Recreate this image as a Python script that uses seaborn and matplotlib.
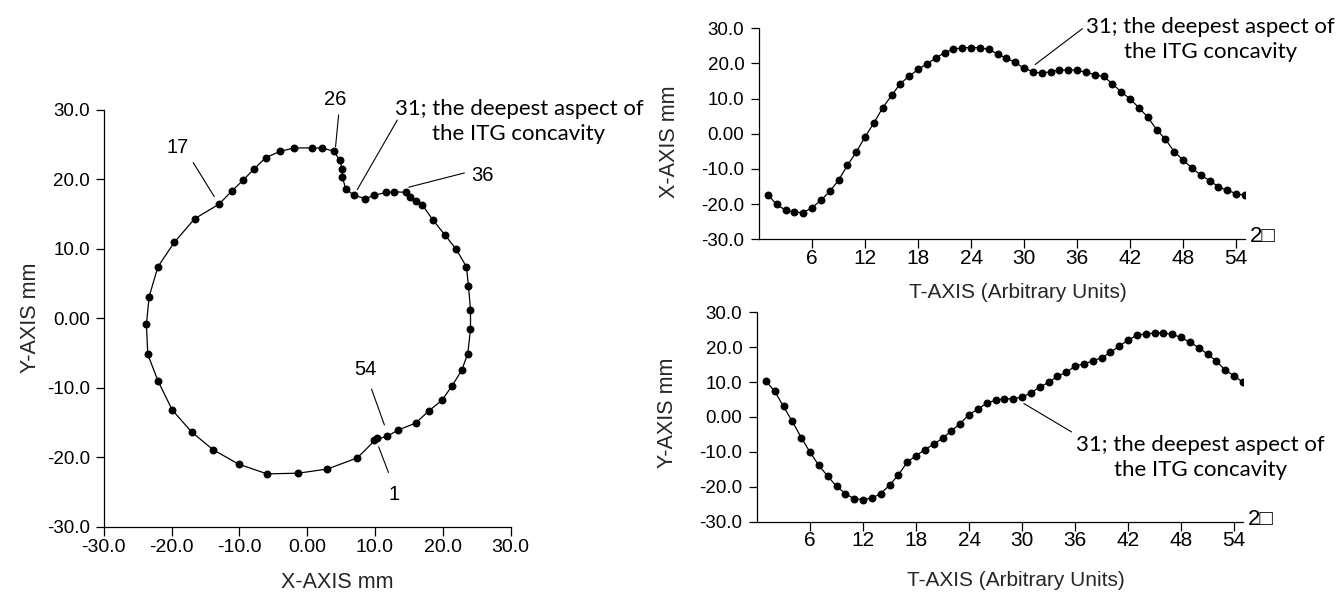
import matplotlib
matplotlib.use("Agg")
import matplotlib.pyplot as plt
import seaborn as sns
import pandas as pd

# ---------------- data ----------------
t_index = list(range(1, 56))
# horizontal coordinate of each contour point (left panel X, lower-right series)
x_coord = [10.3, 7.4, 3.0, -1.3, -5.9, -10.1, -13.9, -17.0, -19.9, -22.0,
           -23.5, -23.7, -23.3, -22.0, -19.6, -16.6, -13.0, -11.1, -9.4, -7.8,
           -6.1, -4.0, -1.9, 0.7, 2.2, 4.0, 4.8, 5.2, 5.2, 5.7,
           6.9, 8.6, 9.9, 11.7, 12.8, 14.6, 15.2, 16.1, 17.0, 18.5,
           20.4, 22.0, 23.5, 23.8, 24.1, 24.1, 23.7, 22.8, 21.4, 19.9,
           18.0, 16.0, 13.4, 11.8, 9.9]
# vertical coordinate of each contour point (left panel Y, upper-right series)
y_coord = [-17.3, -20.1, -21.7, -22.3, -22.4, -21.0, -18.9, -16.4, -13.2, -9.0,
           -5.2, -0.9, 3.1, 7.4, 10.9, 14.3, 16.4, 18.3, 19.9, 21.5,
           23.1, 24.0, 24.5, 24.5, 24.5, 24.0, 22.7, 21.5, 20.3, 18.6,
           17.7, 17.2, 17.7, 18.1, 18.2, 18.1, 17.5, 16.8, 16.3, 14.2,
           11.9, 9.9, 7.4, 4.7, 1.2, -1.6, -5.1, -7.5, -9.7, -11.8,
           -13.3, -15.1, -16.1, -17.0, -17.5]

mm_ticks = [-30, -20, -10, 0, 10, 20, 30]
mm_tick_labels = ["-30.0", "-20.0", "-10.0", "0.00", "10.0", "20.0", "30.0"]
t_ticks = [6, 12, 18, 24, 30, 36, 42, 48, 54]
t_tick_labels = ["6", "12", "18", "24", "30", "36", "42", "48", "54"]
note_text = "31; the deepest aspect of\nthe ITG concavity"
point_labels = ["17", "26", "36", "54", "1"]
corner_text = "2\u25a1"

df = pd.DataFrame({"T": t_index, "X": x_coord, "Y": y_coord})

# ---------------- style ----------------
sns.set_theme(style="ticks")
plt.rcParams["font.family"] = ["Liberation Sans", "DejaVu Sans"]
plt.rcParams["axes.linewidth"] = 0.9
plt.rcParams["xtick.major.width"] = 0.9
plt.rcParams["ytick.major.width"] = 0.9
plt.rcParams["xtick.major.size"] = 6.5
plt.rcParams["ytick.major.size"] = 6
plt.rcParams["xtick.direction"] = "out"
plt.rcParams["ytick.direction"] = "out"
plt.rcParams["axes.edgecolor"] = "black"
plt.rcParams["xtick.color"] = "black"
plt.rcParams["ytick.color"] = "black"
plt.rcParams["text.color"] = "black"

W, H = 1343, 596
fig = plt.figure(figsize=(W / 100, H / 100), dpi=100)
fig.patch.set_facecolor("white")

def rect(x0, y_top, x1, y_bot):
    return [x0 / W, 1 - y_bot / H, (x1 - x0) / W, (y_bot - y_top) / H]

ax_l = fig.add_axes(rect(103.7, 109.7, 510.5, 526.7))
ax_tr = fig.add_axes(rect(759, 28.3, 1245, 239.3))
ax_br = fig.add_axes(rect(757, 312.4, 1243, 521.5))

line_kw = dict(color="black", linewidth=0.9, marker="o", markersize=5.7,
               markeredgewidth=0, markerfacecolor="black",
               estimator=None, errorbar=None)

# ---------------- left: contour ----------------
sns.lineplot(data=df, x="X", y="Y", sort=False, ax=ax_l, **line_kw)
ax_l.set_xlim(-30, 30)
ax_l.set_ylim(-30, 30)
ax_l.set_xticks(mm_ticks, mm_tick_labels)
ax_l.set_yticks(mm_ticks, mm_tick_labels)
ax_l.tick_params(axis="x", labelsize=14, pad=2.5)
ax_l.tick_params(axis="y", labelsize=13.5, pad=4)
ax_l.set_xlabel("X-AXIS mm", fontsize=15.5, va="center")
ax_l.set_ylabel("Y-AXIS mm", fontsize=15.5, va="center")
ax_l.xaxis.set_label_coords(0.573, -0.135)
ax_l.yaxis.set_label_coords(-0.181, 0.5)

seg = dict(arrowstyle="-", color="black", lw=0.8, shrinkA=0, shrinkB=0)
def leader(ax, start, end):
    ax.annotate("", xy=end, xytext=start, arrowprops=seg, annotation_clip=False)

lbl_kw = dict(fontsize=14.5, ha="center", va="center", clip_on=False)
# 17
ax_l.text(-19.05, 24.5, point_labels[0], **lbl_kw)
leader(ax_l, (-16.8, 22.4), (-13.7, 17.5))
# 26
ax_l.text(4.2, 31.4, point_labels[1], **lbl_kw)
leader(ax_l, (4.65, 29.25), (4.2, 24.7))
# 36
ax_l.text(25.8, 20.6, point_labels[2], **lbl_kw)
leader(ax_l, (23.2, 20.9), (15.0, 18.85))
# 54
ax_l.text(8.55, -7.4, point_labels[3], **lbl_kw)
leader(ax_l, (9.5, -10.2), (11.4, -15.35))
# 1
ax_l.text(12.9, -25.4, point_labels[4], **lbl_kw)
leader(ax_l, (10.55, -18.5), (12.0, -22.2))
# 31 note
note_kw = dict(fontsize=16, ha="center", va="center", linespacing=1.3,
               clip_on=False, family=["Lato", "DejaVu Sans"])
ax_l.text(31.25, 28.3, note_text, **note_kw)
leader(ax_l, (13.3, 28.5), (7.4, 18.5))

# ---------------- right: time series ----------------
for ax, col, ylab, ylab_y in [(ax_tr, "Y", "X-AXIS mm", 0.461),
                               (ax_br, "X", "Y-AXIS mm", 0.52)]:
    sns.lineplot(data=df, x="T", y=col, ax=ax, **line_kw)
    ax.set_xlim(0, 55)
    ax.set_ylim(-30, 30)
    ax.set_xticks(t_ticks, t_tick_labels)
    ax.set_yticks(mm_ticks, mm_tick_labels)
    ax.tick_params(axis="x", labelsize=15, pad=0.5)
    ax.tick_params(axis="y", labelsize=13.5, pad=4.5)
    ax.set_xlabel("T-AXIS (Arbitrary Units)", fontsize=15, va="center")
    ax.xaxis.set_label_coords(0.533, -0.254 if ax is ax_tr else -0.28)
    ax.set_ylabel(ylab, fontsize=15.5, va="center")
    ax.yaxis.set_label_coords(-0.185, ylab_y)
    ax.text(55.6, -29.3, corner_text, fontsize=16, ha="left", va="center",
            clip_on=False)

ax_tr.text(51.1, 26.8, note_text, **note_kw)
leader(ax_tr, (36.6, 29.9), (31.25, 19.7))
ax_br.text(50.2, -11.7, note_text, **note_kw)
leader(ax_br, (30.2, 3.85), (35.6, -4.3))

for ax in (ax_l, ax_tr, ax_br):
    sns.despine(ax=ax)
    ax.set_facecolor("white")

fig.savefig("out.png", dpi=100, facecolor="white")
